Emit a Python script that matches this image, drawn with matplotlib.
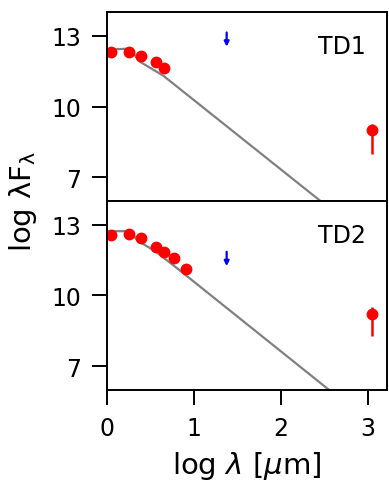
import numpy as np
from matplotlib import pyplot as plt

# photometry, TD1
x1 = [0.046, 0.256, 0.394, 0.56, 0.66]
y1 = [12.30, 12.30, 12.16, 11.88, 11.62]
# photometry, TD2
x2 = [0.046, 0.256, 0.394, 0.56, 0.66, 0.767, 0.905]
y2 = [12.54, 12.61, 12.44, 12.06, 11.84, 11.58, 11.14]

# upper limits (blue arrows): top and bottom of arrow
ul_x = 1.376
ul_top1, ul_bot1 = 13.14, 12.54
ul_top2, ul_bot2 = 11.85, 11.24

# mm point with errorbars
mm_x = 3.05
mm_y1, mm_lo1, mm_hi1 = 8.99, 0.98, 0.29
mm_y2, mm_lo2, mm_hi2 = 9.20, 0.91, 0.30

# model curves
mx1 = [0.05, 0.22, 0.30, 0.36, 0.42, 0.647, 2.60]
my1 = [12.42, 12.45, 12.30, 11.95, 11.81, 11.31, 5.57]
mx2 = [0.03, 0.22, 0.30, 0.36, 0.552, 0.80, 2.70]
my2 = [12.72, 12.72, 12.55, 12.30, 11.88, 11.17, 5.57]

names = ['TD1', 'TD2']

fig = plt.figure(figsize=(3.89, 4.89), dpi=100)
ax1 = fig.add_axes([0.275, 0.587, 0.72, 0.386])
ax2 = fig.add_axes([0.275, 0.2005, 0.72, 0.3865], sharex=ax1)

sets = [(ax1, x1, y1, mx1, my1, ul_top1, ul_bot1, mm_y1, mm_lo1, mm_hi1),
        (ax2, x2, y2, mx2, my2, ul_top2, ul_bot2, mm_y2, mm_lo2, mm_hi2)]

for i, (ax, x, y, mx, my, ut, ub, my_, lo, hi) in enumerate(sets):
    ax.plot(mx, my, color='gray', lw=1.6, zorder=1)
    ax.plot(x, y, 'o', color='red', ms=7.5, zorder=2)
    ax.annotate('', xy=(ul_x, ub), xytext=(ul_x, ut),
                arrowprops=dict(arrowstyle='-|>', color='blue', lw=1.6,
                                mutation_scale=7, shrinkA=0, shrinkB=0))
    ax.errorbar(mm_x, my_, yerr=[[lo], [hi]], fmt='o', color='red', ms=7.5,
                elinewidth=1.8, capsize=0)
    ax.text(0.84, 0.82, names[i], transform=ax.transAxes, ha='center',
            va='center', fontsize=17)
    ax.set_ylim(6, 14)
    ax.set_yticks([7, 10, 13])
    ax.tick_params(labelsize=17, length=10.5, width=1.4, pad=8)
    for s in ax.spines.values():
        s.set_linewidth(1.4)

ax1.set_xlim(0, 3.22)
ax1.set_xticks([0, 1, 2, 3])
ax1.tick_params(axis='x', length=0, labelbottom=False)
ax2.set_xlabel(r'log $\lambda$ [$\mu$m]', fontsize=21, labelpad=7)
fig.text(0.058, 0.5875, r'log λF$_\mathregular{λ}$', rotation=90,
         ha='center', va='center', fontsize=21)

plt.savefig('out.png', dpi=100)
